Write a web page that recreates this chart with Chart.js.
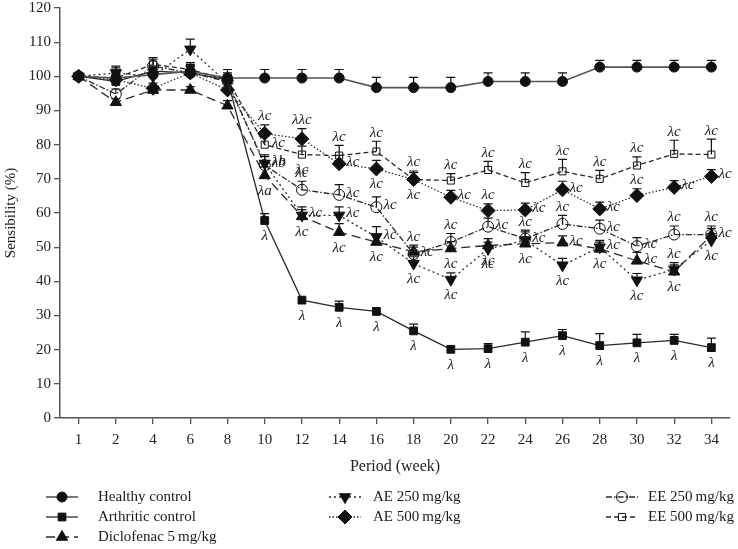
<!DOCTYPE html>
<html lang="en">
<head>
    <meta charset="UTF-8">
    <title>Sensibility</title>
    <script src="https://cdn.jsdelivr.net/npm/chart.js"></script>
    <style>
        body { margin: 0; background: #fff; }
        #wrap { width: 738px; height: 549px; }
    </style>
</head>
<body>
<div id="wrap"><canvas id="chart" width="738" height="549"></canvas></div>

<script>
    // x categories (weeks)
    const weeks = ['1', '2', '4', '6', '8', '10', '12', '14', '16', '18', '20', '22', '24', '26', '28', '30', '32', '34'];

    // means (%)
    const healthy    = [100, 99.5, 100.5, 101.5, 99.5, 99.5, 99.5, 99.5, 96.7, 96.7, 96.7, 98.5, 98.5, 98.5, 102.7, 102.7, 102.7, 102.7];
    const arthritic  = [100, 98.5, 101.5, 101, 99, 57.8, 34.5, 32.4, 31.2, 25.5, 20.1, 20.3, 22.2, 24.1, 21.2, 22, 22.7, 20.6];
    const diclofenac = [100, 92.4, 96, 96, 91.4, 71, 59, 54.4, 51.5, 48.6, 49.6, 50.5, 51, 51.3, 49.5, 46, 42.8, 53.5];
    const ae250      = [100, 101, 100, 107.9, 98, 74.5, 59.3, 59.3, 53, 45.2, 40.5, 49.5, 52, 44.7, 50, 40.3, 43.5, 52];
    const ae500      = [100, 99, 96.5, 101, 96, 83.3, 81.7, 74.4, 72.9, 69.8, 64.6, 60.7, 60.9, 66.8, 61.2, 65.1, 67.5, 70.7];
    const ee250      = [100, 94.8, 103, 101, 98.5, 74, 66.8, 65.3, 61.7, 48, 51.5, 56, 52.5, 56.8, 55.4, 50.3, 53.7, 53.7];
    const ee500      = [100, 99.5, 103.5, 102, 99, 80, 77.1, 76.8, 78, 69.8, 69.5, 72.6, 68.8, 72.2, 70, 73.9, 77.3, 77.1];

    // upper error (SEM)
    const healthyErr    = [0.5, 1.5, 2, 2, 2.5, 2.5, 2.5, 2.5, 3, 3, 3, 2.5, 2.5, 2.5, 2, 2, 2, 2];
    const arthriticErr  = [0.5, 1.5, 1.5, 2, 2, 2, 0.5, 1.8, 0.5, 2, 0.5, 1.5, 3, 1.8, 3.5, 2.5, 1.8, 2.8];
    const diclofenacErr = [0.5, 1, 1, 1, 1.5, 2.5, 2, 2.5, 2, 2, 2, 2, 2, 2, 2, 2.5, 2, 2];
    const ae250Err      = [0.5, 2, 2, 3, 2, 2.5, 2.5, 2.5, 3, 2, 2, 2, 2.5, 2, 2, 2, 2, 2];
    const ae500Err      = [0.5, 1.5, 1.5, 2, 2, 2.5, 3, 2.5, 2.5, 2.5, 2, 2, 2, 2.5, 2, 2, 2, 2];
    const ee250Err      = [0.5, 1.5, 2, 2, 2, 2.5, 2.5, 3, 3, 2, 2.5, 2.5, 2.5, 2.5, 2.5, 2.5, 2.5, 2.5];
    const ee500Err      = [0.5, 3, 2, 2, 3, 2.5, 2.5, 3, 3, 2, 2, 2.5, 3, 3.5, 2.5, 2.5, 4, 4.5];

    // significance marks and where they sit (a = above bar, b = below, r = right)
    const N = null;
    const arthriticSig  = [N, N, N, N, N, 'λ', 'λ', 'λ', 'λ', 'λ', 'λ', 'λ', 'λ', 'λ', 'λ', 'λ', 'λ', 'λ'];
    const arthriticPos  = 'bbbbbbbbbbbbbbbbbb';
    const diclofenacSig = [N, N, N, N, N, 'λa', 'λc', 'λc', 'λc', 'λc', 'λc', 'λc', 'λc', 'λc', 'λc', 'λc', 'λc', 'λc'];
    const diclofenacPos = 'bbbbbbbbbabbbrbrbr';
    const ae250Sig      = [N, N, N, N, N, 'λb', 'λc', 'λc', 'λc', 'λc', 'λc', 'λc', 'λc', 'λc', 'λc', 'λc', 'λc', 'λc'];
    const ae250Pos      = 'rrrrrrrrrbbbrbrbab';
    const ae500Sig      = [N, N, N, N, N, 'λc', 'λλc', 'λc', 'λc', 'λc', 'λc', 'λc', 'λc', 'λc', 'λc', 'λc', 'λc', 'λc'];
    const ae500Pos      = 'aaaaaaarbararrrarr';
    const ee250Sig      = [N, N, N, N, N, 'λb', 'λc', 'λc', 'λc', 'λc', 'λc', 'λc', 'λc', 'λc', 'λc', 'λc', 'λc', 'λc'];
    const ee250Pos      = 'rrrrrrarrraraarraa';
    const ee500Sig      = [N, N, N, N, N, 'λc', 'λc', 'λc', 'λc', 'λc', 'λc', 'λc', 'λc', 'λc', 'λc', 'λc', 'λc', 'λc'];
    const ee500Pos      = 'rrrrrrbaabaaaaaaaa';

    const serif = '"Liberation Serif", "DejaVu Serif", serif';
    const ink = '#2a2a2a';

    function series(label, data, err, sig, pos, style) {
        return Object.assign({
            label: label,
            data: data,
            err: err,
            sig: sig,
            sigPos: pos,
            borderColor: ink,
            borderWidth: 1.3,
            pointBackgroundColor: '#111',
            pointBorderColor: '#111',
            pointBorderWidth: 1,
            pointRadius: 5,
            fill: false,
            tension: 0
        }, style);
    }

    const datasets = [
        series('Healthy control', healthy, healthyErr, [], '', { pointStyle: 'circle', borderColor: '#555', borderWidth: 1.6 }),
        series('Arthritic control', arthritic, arthriticErr, arthriticSig, arthriticPos, { pointStyle: 'rect', pointRadius: 5.5 }),
        series('Diclofenac 5\u2009mg/kg', diclofenac, diclofenacErr, diclofenacSig, diclofenacPos, { pointStyle: 'triangle', pointRadius: 6.5, borderDash: [9, 5] }),
        series('AE 250\u2009mg/kg', ae250, ae250Err, ae250Sig, ae250Pos, { pointStyle: 'triangle', pointRotation: 180, pointRadius: 6.5, borderDash: [2, 3] }),
        series('AE 500\u2009mg/kg', ae500, ae500Err, ae500Sig, ae500Pos, { pointStyle: 'rectRot', pointRadius: 7, borderDash: [1.5, 2] }),
        series('EE 250\u2009mg/kg', ee250, ee250Err, ee250Sig, ee250Pos, { pointStyle: 'circle', pointBackgroundColor: 'rgba(255,255,255,0)', pointRadius: 5.5, borderDash: [6, 2, 1.5, 2] }),
        series('EE 500\u2009mg/kg', ee500, ee500Err, ee500Sig, ee500Pos, { pointStyle: 'rect', pointBackgroundColor: 'rgba(255,255,255,0)', pointRadius: 5, borderDash: [5, 3] })
    ];

    // upper error bars with caps
    const errorBars = {
        id: 'errorBars',
        beforeDatasetsDraw(chart) {
            const ctx = chart.ctx;
            const y = chart.scales.y;
            ctx.save();
            ctx.strokeStyle = '#111';
            ctx.lineWidth = 1.2;
            chart.data.datasets.forEach((ds, i) => {
                const meta = chart.getDatasetMeta(i);
                meta.data.forEach((pt, j) => {
                    const e = ds.err[j];
                    if (!e || e < 0.8) return;
                    const top = y.getPixelForValue(ds.data[j] + e);
                    ctx.beginPath();
                    ctx.moveTo(pt.x, pt.y);
                    ctx.lineTo(pt.x, top);
                    ctx.moveTo(pt.x - 4.5, top);
                    ctx.lineTo(pt.x + 4.5, top);
                    ctx.stroke();
                });
            });
            ctx.restore();
        }
    };

    // λ / λc marks and the legend underneath
    const marks = {
        id: 'marks',
        afterDraw(chart) {
            const ctx = chart.ctx;
            const y = chart.scales.y;
            ctx.save();
            ctx.fillStyle = '#1a1a1a';
            ctx.font = 'italic 15px ' + serif;
            chart.data.datasets.forEach((ds, i) => {
                const meta = chart.getDatasetMeta(i);
                ds.sig.forEach((txt, j) => {
                    if (!txt) return;
                    const pt = meta.data[j];
                    const p = ds.sigPos[j];
                    if (p === 'a') {
                        ctx.textAlign = 'center';
                        ctx.textBaseline = 'bottom';
                        ctx.fillText(txt, pt.x, y.getPixelForValue(ds.data[j] + ds.err[j]) - 1);
                    } else if (p === 'b') {
                        ctx.textAlign = 'center';
                        ctx.textBaseline = 'top';
                        ctx.fillText(txt, pt.x, pt.y + 8);
                    } else {
                        ctx.textAlign = 'left';
                        ctx.textBaseline = 'middle';
                        ctx.fillText(txt, pt.x + 7, pt.y - 2);
                    }
                });
            });

            // legend: three columns
            const cols = [{ x: 62, tx: 98 }, { x: 345, tx: 373 }, { x: 622, tx: 648 }];
            const slots = [[0, 0], [0, 1], [0, 2], [1, 0], [1, 1], [2, 0], [2, 1]];
            const rows = [497, 517, 537];
            ctx.font = '15px ' + serif;
            ctx.textAlign = 'left';
            ctx.textBaseline = 'middle';
            chart.data.datasets.forEach((ds, i) => {
                const c = cols[slots[i][0]];
                const ry = rows[slots[i][1]];
                ctx.save();
                ctx.strokeStyle = ds.borderColor;
                ctx.lineWidth = ds.borderWidth;
                ctx.setLineDash(ds.borderDash || []);
                ctx.beginPath();
                ctx.moveTo(c.x - 16, ry);
                ctx.lineTo(c.x + 16, ry);
                ctx.stroke();
                ctx.restore();
                ctx.save();
                ctx.fillStyle = ds.pointBackgroundColor;
                ctx.strokeStyle = ds.pointBorderColor;
                ctx.lineWidth = 1;
                Chart.helpers.drawPoint(ctx, {
                    pointStyle: ds.pointStyle,
                    rotation: ds.pointRotation || 0,
                    radius: ds.pointRadius,
                    borderWidth: 1
                }, c.x, ry);
                ctx.restore();
                ctx.fillStyle = '#1a1a1a';
                ctx.fillText(ds.label, c.tx, ry);
            });
            ctx.restore();
        }
    };

    const axisGrid = { drawOnChartArea: false, drawTicks: true, tickLength: 6, color: '#555', lineWidth: 1.3 };

    new Chart(document.getElementById('chart'), {
        type: 'line',
        data: { labels: weeks, datasets: datasets },
        options: {
            responsive: false,
            animation: false,
            layout: { padding: { top: 7, right: 6, bottom: 69, left: 0 } },
            plugins: { legend: { display: false }, tooltip: { enabled: false } },
            scales: {
                x: {
                    type: 'category',
                    offset: true,
                    grid: axisGrid,
                    border: { color: '#555', width: 1.5 },
                    ticks: { color: '#222', font: { family: serif, size: 15 }, padding: 7 },
                    title: { display: true, text: 'Period (week)', color: '#222', font: { family: serif, size: 16 }, padding: { top: 5 } },
                    afterFit: s => { s.height = 62; }
                },
                y: {
                    min: 0,
                    max: 120,
                    grid: axisGrid,
                    border: { color: '#555', width: 1.5 },
                    ticks: { stepSize: 10, color: '#222', font: { family: serif, size: 15 }, padding: 3 },
                    title: { display: true, text: 'Sensibility (%)', color: '#222', font: { family: serif, size: 15 }, padding: 2 },
                    afterFit: s => { s.width = 60; s.paddingTop = 0; s.paddingBottom = 0; }
                }
            }
        },
        plugins: [errorBars, marks]
    });
</script>
</body>
</html>
